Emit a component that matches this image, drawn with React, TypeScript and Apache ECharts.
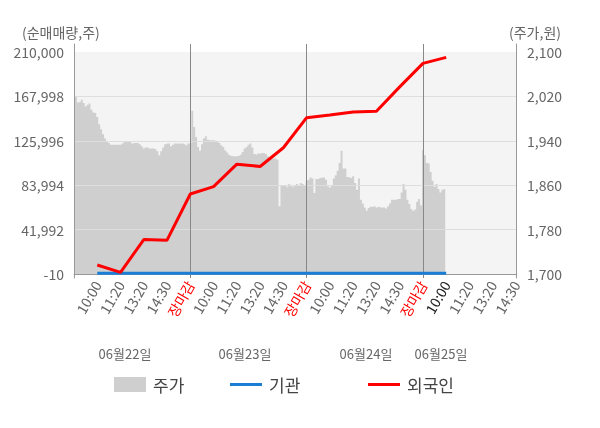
import React, { useEffect, useRef } from "react";
import * as echarts from "echarts";

const FONT = "'Noto Sans CJK KR', 'Noto Sans', sans-serif";

// x-axis tick labels (one every 12 fine categories)
const tickLabels = [
  "", "10:00", "11:20", "13:20", "14:30", "장마감",
  "10:00", "11:20", "13:20", "14:30", "장마감",
  "10:00", "11:20", "13:20", "14:30", "장마감",
  "10:00", "11:20", "13:20", "14:30",
];
const redTicks = [5, 10, 15];
const currentTick = 16;
const dateLabels = ["06월22일", "06월23일", "06월24일", "06월25일"];

const leftTicks = { min: -10, max: 210000, interval: 42002 };
const rightTicks = { min: 1700, max: 2100, interval: 80 };

// 주가 (price, 원) at each fine category
const priceDay1 = [
  2028, 2020, 2009, 2010, 2014, 2008, 2002, 2005, 2007, 1996,
  1991, 1990, 1983, 1970, 1961, 1952, 1944, 1939, 1936, 1933,
  1933, 1933, 1933, 1933, 1933, 1935, 1938, 1938, 1938, 1938,
  1935, 1936, 1936, 1936, 1934, 1930, 1926, 1928, 1928, 1926,
  1926, 1926, 1925, 1921, 1914, 1921, 1928, 1934, 1935, 1935,
  1930, 1933, 1935, 1935, 1935, 1935, 1935, 1934, 1932, 1935,
  1936,
];
const priceDay2 = [
  1994, 1965, 1947, 1929, 1922, 1934, 1944, 1948, 1942, 1941,
  1941, 1941, 1940, 1939, 1936, 1932, 1929, 1923, 1919, 1915,
  1913, 1912, 1912, 1912, 1913, 1915, 1920, 1926, 1929, 1933,
  1935, 1928, 1916, 1915, 1917, 1917, 1918, 1918, 1916, 1912,
  1910, 1908, 1908, 1908, 1906, 1822, 1860, 1860, 1859, 1857,
  1862, 1858, 1857, 1859, 1862, 1860, 1864, 1862, 1860, 1868,
];
const priceDay3 = [
  1870, 1874, 1872, 1846, 1871, 1871, 1873, 1874, 1874, 1870,
  1858, 1856, 1860, 1872, 1878, 1886, 1900, 1922, 1890, 1890,
  1875, 1874, 1873, 1876, 1864, 1852, 1872, 1834, 1827, 1820,
  1814, 1819, 1821, 1821, 1822, 1820, 1821, 1820, 1820, 1820,
  1818, 1822, 1827, 1834, 1834, 1834, 1835, 1835, 1847, 1862,
  1852, 1834, 1826, 1817, 1814, 1816, 1830, 1835, 1824, 1923,
];
const priceDay4 = [1914, 1900, 1899, 1884, 1868, 1857, 1862, 1853, 1847, 1852, 1853];

// 순매매량 (cumulative, 주) at tick positions 1..16
const foreignValues = [
  8500, 1500, 32600, 32000, 75700, 82600, 103900, 101700,
  119400, 147900, 150400, 153300, 153900, 177000, 199200, 204900,
];
const institutionValues = [
  700, 700, 700, 700, 700, 700, 700, 700,
  700, 700, 700, 700, 700, 700, 700, 700,
];

const SUB = 12;
const TOTAL = (tickLabels.length - 1) * SUB + 1;

export default function App() {
  const ref = useRef<HTMLDivElement>(null);

  useEffect(() => {
    if (!ref.current) return;
    const chart = echarts.init(ref.current, undefined, { renderer: "svg" });

    const categories: string[] = [];
    for (let i = 0; i < TOTAL; i++) categories.push(String(i));

    const price = [...priceDay1, ...priceDay2, ...priceDay3, ...priceDay4];
    const priceData: (number | null)[] = categories.map((_, i) => (i < price.length ? price[i] : null));

    const atTicks = (vals: number[]) => {
      const arr: (number | null)[] = new Array(TOTAL).fill(null);
      vals.forEach((v, k) => {
        arr[(k + 1) * SUB] = v;
      });
      return arr;
    };

    const fmt = (v: number) => v.toLocaleString("en-US");

    const legendBase = {
      top: 376,
      padding: 0,
      itemWidth: 32,
      icon: "rect",
      itemStyle: { borderWidth: 0 },
      textStyle: { fontSize: 17, color: "#444", fontFamily: FONT, padding: [0, 0, 0, 2] },
    };

    chart.setOption({
      animation: false,
      textStyle: { fontFamily: FONT },
      grid: [
        { left: 74, right: 84, top: 52, bottom: 154, show: true, backgroundColor: "#f4f4f4", borderWidth: 0 },
        { left: 74, right: 84, top: 44, bottom: 150, show: false },
      ],
      xAxis: [
        {
          type: "category",
          gridIndex: 0,
          data: categories,
          boundaryGap: false,
          z: 3,
          axisLine: { show: true, lineStyle: { color: "#999" } },
          axisTick: { show: false },
          splitLine: { show: false },
          axisLabel: {
            interval: (i: number) => i > 0 && i % SUB === 0,
            rotate: 60,
            margin: 8,
            fontSize: 14,
            color: "#666",
            fontFamily: FONT,
            formatter: (v: string) => {
              const k = Number(v) / SUB;
              const t = tickLabels[k] ?? "";
              if (redTicks.includes(k)) return `{r|${t}}`;
              if (k === currentTick) return `{d|${t}}`;
              return t;
            },
            rich: {
              r: { color: "#ff0000", fontSize: 14, fontFamily: FONT },
              d: { color: "#222", fontSize: 14, fontFamily: FONT },
            },
          },
        },
        {
          type: "category",
          gridIndex: 1,
          data: categories,
          boundaryGap: false,
          z: 3,
          axisLine: { show: false },
          axisTick: { show: false },
          axisLabel: { show: false },
          splitLine: {
            show: true,
            interval: (i: number) => i > 0 && i % (SUB * 5) === 0 && i < TOTAL - 1,
            lineStyle: { color: "#888", width: 1 },
          },
        },
      ],
      yAxis: [
        {
          type: "value",
          gridIndex: 0,
          position: "left",
          ...leftTicks,
          z: 3,
          axisLine: { show: false },
          axisTick: { show: false },
          axisLabel: { color: "#666", fontSize: 14, margin: 10, fontFamily: FONT, formatter: fmt },
          splitLine: { show: true, showMinLine: false, showMaxLine: false, lineStyle: { color: "#dedede" } },
        },
        {
          type: "value",
          gridIndex: 0,
          position: "right",
          ...rightTicks,
          z: 3,
          axisLine: { show: false },
          axisTick: { show: false },
          axisLabel: { color: "#666", fontSize: 14, margin: 11, fontFamily: FONT, formatter: fmt },
          splitLine: { show: false },
        },
        {
          type: "value",
          gridIndex: 1,
          position: "left",
          z: 3,
          axisLine: { show: true, lineStyle: { color: "#999" } },
          axisTick: { show: false },
          axisLabel: { show: false },
          splitLine: { show: false },
        },
        {
          type: "value",
          gridIndex: 1,
          position: "right",
          z: 3,
          axisLine: { show: true, lineStyle: { color: "#999" } },
          axisTick: { show: false },
          axisLabel: { show: false },
          splitLine: { show: false },
        },
      ],
      legend: [
        { ...legendBase, data: ["주가"], left: 114, itemHeight: 15 },
        { ...legendBase, data: ["기관"], left: 230, itemHeight: 3 },
        { ...legendBase, data: ["외국인"], left: 368, itemHeight: 3 },
      ],
      series: [
        {
          name: "주가",
          type: "line",
          xAxisIndex: 0,
          yAxisIndex: 1,
          data: priceData,
          symbol: "none",
          step: "middle",
          color: "#cfcfcf",
          lineStyle: { width: 0 },
          areaStyle: { color: "#cfcfcf", opacity: 1, origin: "start" },
          z: 2,
        },
        {
          name: "기관",
          type: "line",
          xAxisIndex: 0,
          yAxisIndex: 0,
          data: atTicks(institutionValues),
          connectNulls: true,
          symbol: "none",
          color: "#1a7fd4",
          lineStyle: { width: 3, color: "#1a7fd4" },
          z: 4,
        },
        {
          name: "외국인",
          type: "line",
          xAxisIndex: 0,
          yAxisIndex: 0,
          data: atTicks(foreignValues),
          connectNulls: true,
          symbol: "none",
          color: "#ff0000",
          lineStyle: { width: 3, color: "#ff0000" },
          z: 5,
        },
      ],
      graphic: [
        {
          type: "text",
          x: 22,
          y: 32,
          style: { text: "(순매매량,주)", fontSize: 14, fontFamily: FONT, fill: "#666", textVerticalAlign: "middle" },
        },
        {
          type: "text",
          x: 509,
          y: 32,
          style: { text: "(주가,원)", fontSize: 14, fontFamily: FONT, fill: "#666", textVerticalAlign: "middle" },
        },
        ...dateLabels.map((t, i) => ({
          type: "text",
          x: [125, 245, 366, 441][i],
          y: 353,
          style: { text: t, fontSize: 13, fontFamily: FONT, fill: "#666", textAlign: "center", textVerticalAlign: "middle" },
        })),
      ],
    });

    return () => chart.dispose();
  }, []);

  return <div ref={ref} style={{ position: "fixed", left: 0, top: 0, width: 600, height: 428 }} />;
}
